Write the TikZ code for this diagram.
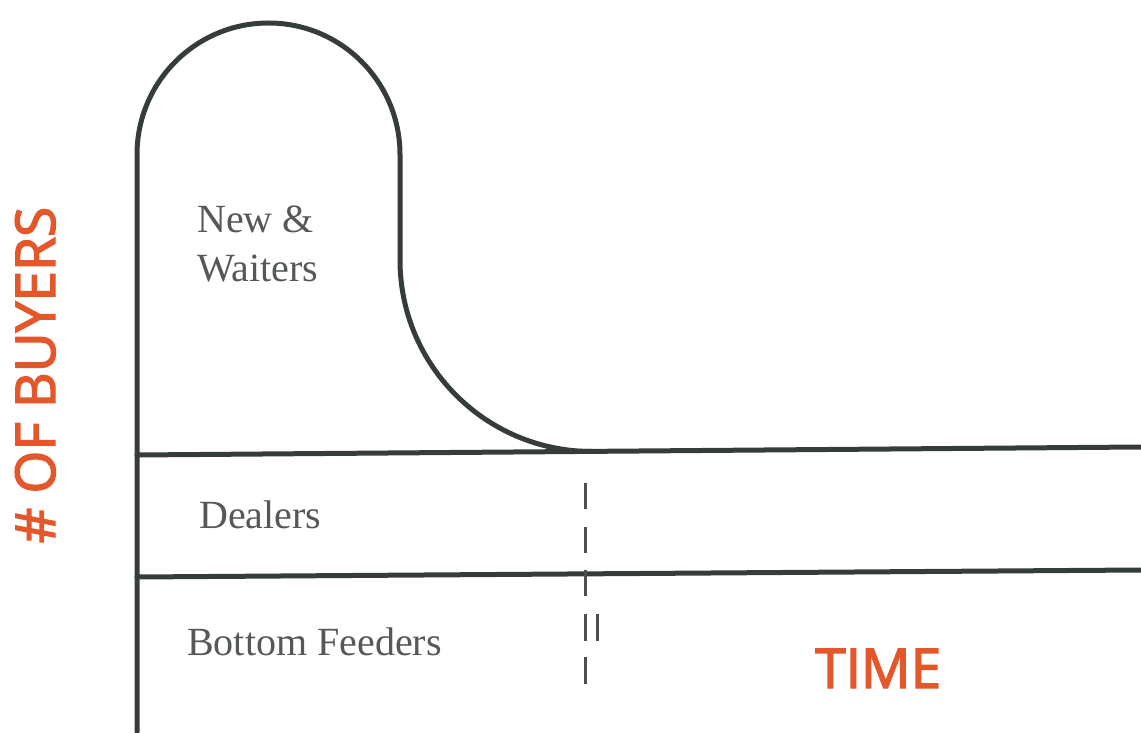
\documentclass[tikz,border=0pt]{standalone}
\usepackage{fontspec}
\setmainfont{Liberation Serif}
\newfontfamily\axisfont[FakeBold=2.6]{Open Sans}
\usepackage{tikz}

\definecolor{inkline}{HTML}{363C3C}
\definecolor{inktext}{HTML}{555858}
\definecolor{axisorange}{HTML}{E4572B}

\begin{document}
\begin{tikzpicture}[x=1pt, y=1pt,
        bandline/.style={draw=inkline, line width=5pt, line cap=round},
        dashmark/.style={draw=inkline!90, line width=3pt},
        bandtext/.style={inktext, font=\fontsize{40}{40}\selectfont, anchor=base west, inner sep=0pt},
        axistext/.style={axisorange, font=\axisfont\fontsize{55}{55}\selectfont, inner sep=0pt}]

        \useasboundingbox (0,0) rectangle (1141,732);

        % arch of the first band and its fall onto the time line
        \draw[bandline] (137,0) -- (137,577.5)
            arc[start angle=180, end angle=0, radius=131.5pt]
            -- (400,472)
            arc[start angle=180, end angle=270, x radius=192pt, y radius=191.5pt];

        % band borders
        \draw[bandline] (137,277) -- (1141,285);
        \draw[bandline] (137,155) -- (1141,162);

        % broken marker
        \foreach \a/\b in {249/223, 205/179, 162/136, 118/91, 75/48}
            \draw[dashmark] (585,\a) -- (585,\b);
        \draw[dashmark] (597,118) -- (597,91);

        % band names
        \node[bandtext] (new) at (197,499) {New \&};
        \node[bandtext] (waiters) at (197,450) {Waiters};
        \node[bandtext] (dealers) at (199,204) {Dealers};
        \node[bandtext] (bottom) at (187,77) {Bottom Feeders};

        % axis names
        \node[axistext, anchor=base west] (time) at (815,44) {TIME};
        \node[axistext, rotate=90, anchor=base] (buyers) at (55,357) {\# OF BUYERS};

\end{tikzpicture}
\end{document}
